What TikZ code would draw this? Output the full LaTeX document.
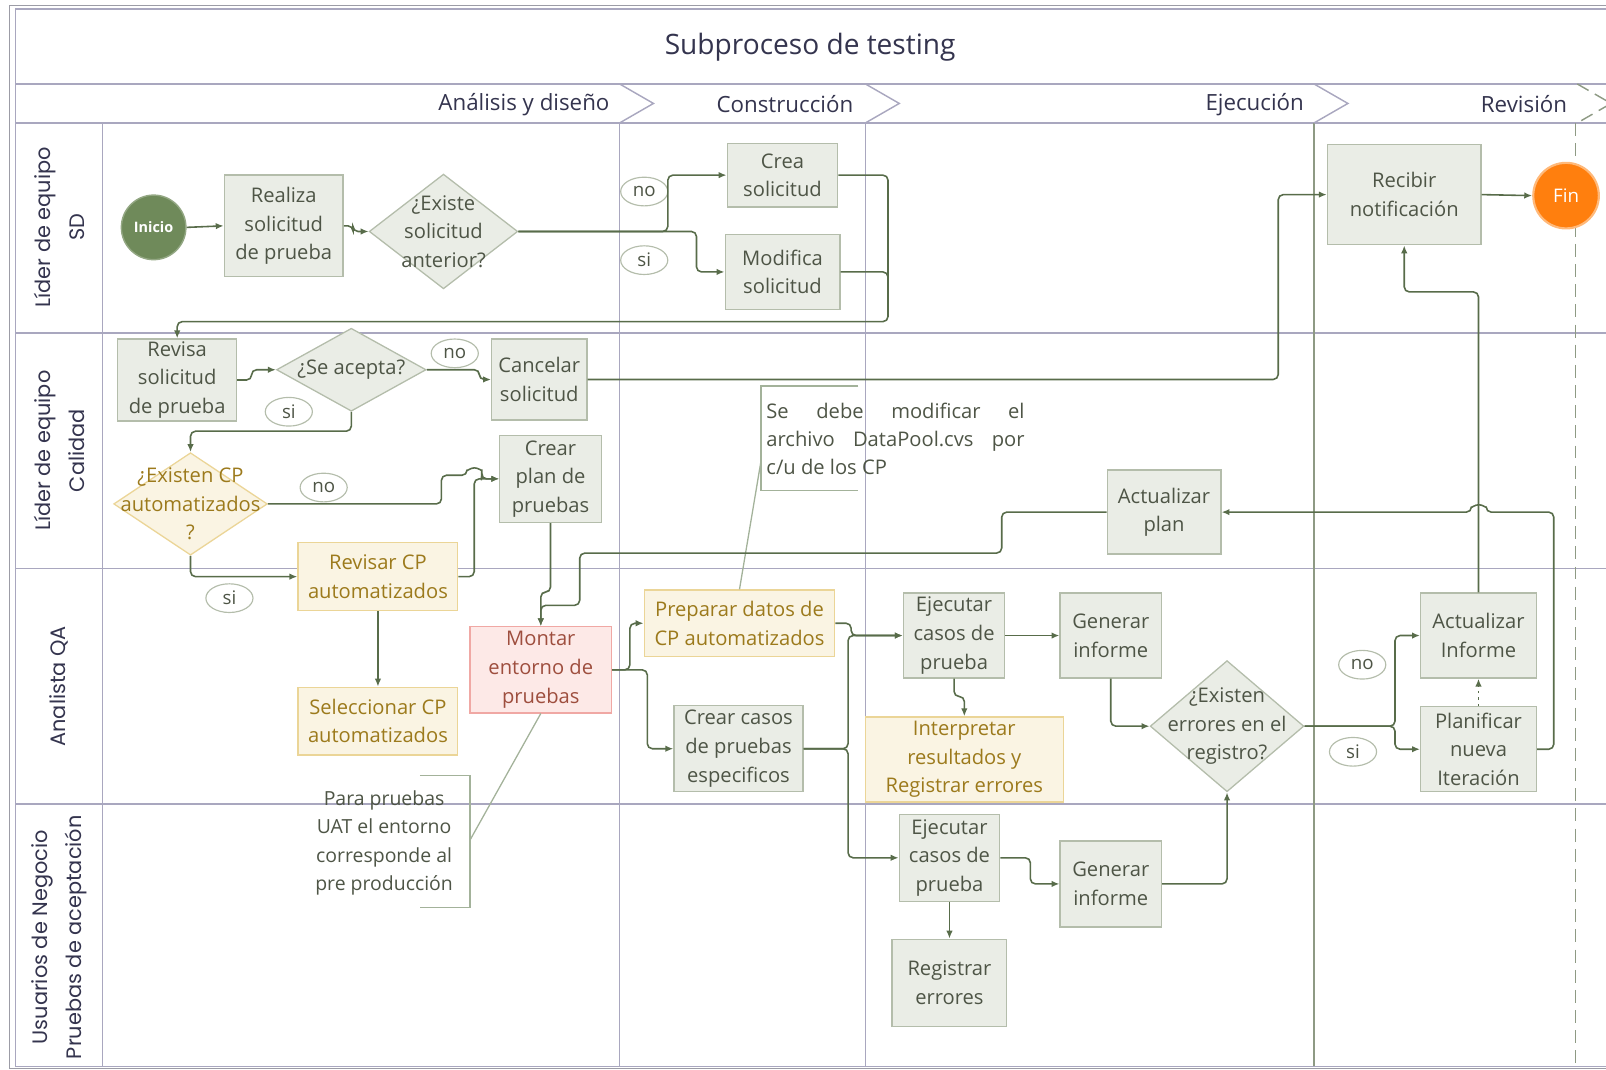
\documentclass[tikz,border=0pt]{standalone}
\usepackage{fontspec}
\setmainfont{Open Sans}
\newfontfamily\lanefont{Poppins}
\usetikzlibrary{shapes.geometric,arrows.meta}

\definecolor{flowc}{HTML}{586C4A}
\definecolor{gridc}{HTML}{A9A7BF}
\definecolor{phasec}{HTML}{8E9A84}
\definecolor{framec}{HTML}{9C9CA6}
\definecolor{boxfill}{HTML}{EAEDE6}
\definecolor{boxline}{HTML}{B4BDAB}
\definecolor{boxtext}{HTML}{4E5546}
\definecolor{creamfill}{HTML}{FAF4E3}
\definecolor{creamline}{HTML}{EBD597}
\definecolor{creamtext}{HTML}{9C7A1C}
\definecolor{pinkfill}{HTML}{FDE9E7}
\definecolor{pinkline}{HTML}{F0A8A4}
\definecolor{pinktext}{HTML}{9E4E3E}
\definecolor{lanetext}{HTML}{34344E}
\definecolor{startc}{HTML}{6F8A5A}
\definecolor{endc}{HTML}{FF7F0E}
\definecolor{notec}{HTML}{A3B29A}

\newcommand\bxfont{\fontsize{14}{19.9}\selectfont}

\tikzset{
  sz/.style 2 args={minimum width={#1*0.025cm}, minimum height={#2*0.025cm}},
  box/.style={draw=boxline, fill=boxfill, text=boxtext, line width=0.9pt,
    inner sep=0pt, align=center, font=\bxfont},
  cream/.style={box, draw=creamline, fill=creamfill, text=creamtext},
  pink/.style={box, draw=pinkline, fill=pinkfill, text=pinktext},
  dia/.style={diamond, draw=boxline, fill=boxfill, line width=0.9pt, inner sep=0pt},
  creamdia/.style={dia, draw=creamline, fill=creamfill},
  diatext/.style={align=center, font=\bxfont, text=boxtext, inner sep=0pt},
  lbl/.style={ellipse, draw=boxline, fill=white, line width=0.8pt,
    minimum width=1.15cm, minimum height=0.7cm, inner sep=0pt,
    text=boxtext, font=\fontsize{13}{15}\selectfont},
  link/.style={draw=flowc, line width=1.1pt, rounded corners=3.5pt},
  flow/.style={link, -{Latex[length=5.5pt,width=4.5pt]}},
  lane/.style={rotate=90, align=center, text=lanetext,
    font=\lanefont\fontsize{14.5}{23.5}\selectfont},
  phase/.style={anchor=east, text=lanetext, font=\fontsize{15.5}{18}\selectfont},
  grid/.style={draw=gridc, line width=1pt},
  notebr/.style={draw=notec, line width=0.9pt},
}

\begin{document}
\begin{tikzpicture}[x=0.025cm, y=-0.025cm]
\useasboundingbox (0,0) rectangle (1568,1044);
\clip (0,0) rectangle (1568,1044);

% ---------- frame, bands and lanes ----------
\draw[framec, line width=0.7pt] (9,5) rectangle (1640,1043);
\draw[grid] (15,9) rectangle (1640,1041);
\draw[grid] (15,82) -- (1640,82);
\draw[grid] (15,120) -- (1640,120);
\draw[grid] (15,325) -- (1640,325);
\draw[grid] (15,555) -- (1640,555);
\draw[grid] (15,785) -- (1640,785);
\draw[grid] (100,120) -- (100,1041);
\draw[grid] (605,120) -- (605,1041);
\draw[grid] (845,120) -- (845,1041);
\draw[draw=phasec, line width=1pt] (1283,120) -- (1283,1041);
\draw[draw=phasec, line width=1pt, dash pattern=on 9pt off 5pt] (1538,120) -- (1538,1041);

% phase chevrons
\draw[grid] (605,82) -- (638,101) -- (605,120);
\draw[grid] (845,82) -- (878,101) -- (845,120);
\draw[grid] (1283,82) -- (1316,101) -- (1283,120);
\draw[draw=phasec, line width=1pt, dash pattern=on 9pt off 5pt] (1540,82) -- (1573,101) -- (1540,120);

% title and phase names
\node[text=lanetext, font=\fontsize{19.5}{22}\selectfont] (title) at (791,46) {Subproceso de testing};
\node[phase] (ph1) at (600,102) {Análisis y diseño};
\node[phase] (ph2) at (838,102) {Construcción};
\node[phase] (ph3) at (1278,102) {Ejecución};
\node[phase] (ph4) at (1535,102) {Revisión};

% lane names
\node[lane] (l1) at (58,222) {Líder de equipo\\SD};
\node[lane] (l2) at (58,440) {Líder de equipo\\Calidad};
\node[lane] (l3) at (58,670) {Analista QA};
\node[lane] (l4) at (58,915) {Usuarios de Negocio\\Pruebas de aceptación};

% ---------- notes ----------
\draw[notebr] (838,377) -- (743,377) -- (743,479) -- (838,479);
\node[anchor=north west, align=left, inner sep=0pt, text=boxtext,
      font=\fontsize{14}{19.6}\selectfont] (note1) at (748,393)
  {\makebox[6.3cm][s]{Se debe modificar el}\\
   \makebox[6.3cm][s]{archivo DataPool.cvs por}\\
   c/u de los CP};
\coordinate (n1a) at (743,450);

\draw[notebr] (410,757) -- (459,757) -- (459,886) -- (410,886);
\node[align=center, inner sep=0pt, text=boxtext,
      font=\fontsize{13.5}{19.6}\selectfont] (note2) at (375,823)
  {Para pruebas\\UAT el entorno\\corresponde al\\pre producción};
\coordinate (n2a) at (459,820);

% ---------- Líder de equipo SD ----------
\node[circle, fill=startc, draw=startc!75!white, line width=1pt, minimum size=1.575cm,
      inner sep=0pt, text=white, font=\bfseries\fontsize{10}{12}\selectfont]
  (inicio) at (150,222) {Inicio};
\node[box, sz={116}{99}] (realiza) at (277,220.5) {Realiza\\solicitud\\de prueba};
\node[dia, minimum width=3.625cm, minimum height=2.8cm] (d1) at (433,226) {};
\node[diatext] (d1t) at (d1) {¿Existe\\solicitud\\anterior?};
\node[box, sz={108}{62}] (crea) at (764,171) {Crea\\solicitud};
\node[box, sz={112}{73}] (modif) at (764,265.5) {Modifica\\solicitud};
\node[lbl] (no1) at (629,187) {no};
\node[lbl] (si1) at (629,254) {si};
\node[box, sz={150}{98}] (recibir) at (1371,190) {Recibir\\notificación};
\node[circle, fill=endc, draw=endc!55!white, line width=1.5pt, minimum size=1.6cm,
      inner sep=0pt, text=white, font=\fontsize{13}{15}\selectfont]
  (fin) at (1529,191) {Fin};

% ---------- Líder de equipo Calidad ----------
\node[box, sz={116}{80}] (revisa) at (173,371) {Revisa\\solicitud\\de prueba};
\node[dia, minimum width=3.65cm, minimum height=2.025cm] (d2) at (343,361) {};
\node[diatext] (d2t) at (d2) {¿Se acepta?};
\node[lbl] (no2) at (444,345) {no};
\node[lbl] (si2) at (282,402) {si};
\node[box, sz={93}{79}] (cancelar) at (526.5,370.5) {Cancelar\\solicitud};
\node[creamdia, minimum width=3.75cm, minimum height=2.5cm] (d3) at (186,492) {};
\node[diatext, text=creamtext] (d3t) at (d3) {¿Existen CP\\automatizados\\?};
\node[lbl] (no3) at (316,476) {no};
\node[lbl] (si3) at (224,584) {si};
\node[box, sz={99}{85}] (crearplan) at (537.5,467.5) {Crear\\plan de\\pruebas};
\node[cream, sz={156}{66}] (revcp) at (369,563) {Revisar CP\\automatizados};
\node[box, sz={111}{82}] (actplan) at (1136.5,500) {Actualizar\\plan};

% ---------- Analista QA ----------
\node[pink, sz={138}{84}] (montar) at (528,654) {Montar\\entorno de\\pruebas};
\node[cream, sz={186}{65}] (preparar) at (722,608.5) {Preparar datos de\\CP automatizados};
\node[cream, sz={156}{66}] (selcp) at (369,704) {Seleccionar CP\\automatizados};
\node[box, sz={126}{84}] (crearcasos) at (721,731) {Crear casos\\de pruebas\\especificos};
\node[box, sz={99}{83}] (ejec1) at (931.5,620.5) {Ejecutar\\casos de\\prueba};
\node[box, sz={99}{83}] (gen1) at (1084.5,620.5) {Generar\\informe};
\node[cream, sz={193}{83}] (interp) at (941.5,741.5) {Interpretar\\resultados y\\Registrar errores};
\node[dia, minimum width=3.75cm, minimum height=3.2cm] (d4) at (1198,709) {};
\node[diatext] (d4t) at (d4) {¿Existen\\errores en el\\registro?};
\node[lbl] (no4) at (1330,649) {no};
\node[lbl] (si4) at (1321,734) {si};
\node[box, sz={113}{83}] (actinf) at (1443.5,620.5) {Actualizar\\Informe};
\node[box, sz={113}{83}] (planif) at (1443.5,731.5) {Planificar\\nueva\\Iteración};

% ---------- Usuarios de Negocio ----------
\node[box, sz={98}{85}] (ejec2) at (927,837.5) {Ejecutar\\casos de\\prueba};
\node[box, sz={99}{84}] (gen2) at (1084.5,863) {Generar\\informe};
\node[box, sz={112}{85}] (regerr) at (927,959.5) {Registrar\\errores};

% ---------- note leaders ----------
\draw[notebr] (n1a) -- (preparar.north);
\draw[notebr] (n2a) -- (montar.south);

% ---------- connectors ----------
\draw[flow] (inicio.east) -- (realiza.west);
\draw[flow] (realiza.east) -- ++(9,0) |- (d1.west);
\draw[flow] (d1.east) -- (652,226) |- (crea.west);
\draw[flow] (d1.east) -- (680,226) |- (modif.west);
\draw[flow] (crea.east) -- (867,171) -- (867,314) -| (revisa.north);
\draw[link] (modif.east) -| (867,300);
\draw[flow] (revisa.east) -- ++(14,0) |- (d2.west);
\draw[flow] (d2.east) -- (468,361) |- (cancelar.west);
\draw[flow] (cancelar.east) -- (1248,370.5) |- (recibir.west);
\draw[flow] (recibir.east) -- (fin.west);
\draw[flow] (d2.south) -- (343,421) -| (d3.north);
\draw[flow] (d3.east) -- (431,492) |- (456,464)
  arc[start angle=180, end angle=0, radius=0.18cm] -- (470,467.5) -- (crearplan.west);
\draw[flow] (d3.south) |- (revcp.west);
\draw[flow] (revcp.east) -- (463,563) -- (463,467.5) -- (crearplan.west);
\draw[flow] (revcp.south) -- (selcp.north);
\draw[flow] (crearplan.south) -- (537.5,578) -| (montar.north);
\draw[flow] (actplan.west) -- (978,500) -- (978,540) -- (566,540) -- (566,591) -| (montar.north);
\draw[flow] (montar.east) -- (615,654) |- (preparar.west);
\draw[flow] (montar.east) -- (632,654) |- (crearcasos.west);
\draw[flow] (preparar.east) -- (831,608.5) |- (ejec1.west);
\draw[flow] (crearcasos.east) -- (828,731) |- (ejec1.west);
\draw[flow] (crearcasos.east) -- (828,731) |- (ejec2.west);
\draw[flow] (ejec1.east) -- (gen1.west);
\draw[flow] (ejec1.south) -- (931.5,680) -| (interp.north);
\draw[flow] (gen1.south) |- (d4.west);
\draw[flow] (ejec2.east) -- (1006,837.5) |- (gen2.west);
\draw[flow] (ejec2.south) -- (regerr.north);
\draw[flow] (gen2.east) -| (d4.south);
\draw[flow] (d4.east) -- (1362,709) |- (actinf.west);
\draw[flow] (d4.east) -- (1362,709) |- (planif.west);
\draw[flow, rounded corners=0pt, dash pattern=on 1.5pt off 3pt] (planif.north) -- (actinf.south);
\draw[flow] (actinf.north) -- (1443.5,285) -| (recibir.south);
\draw[flow] (planif.east) -- (1517,731.5) -- (1517,500) -- (1451,500)
  arc[start angle=0, end angle=180, radius=0.18cm] -- (actplan.east);
\end{tikzpicture}
\end{document}
